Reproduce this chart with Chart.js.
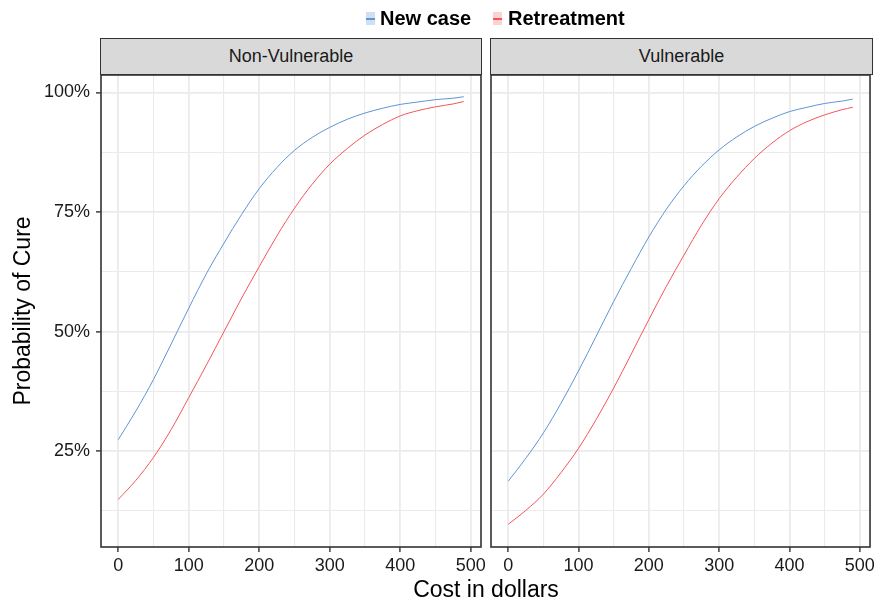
<!DOCTYPE html>
<html>
<head>
<meta charset="utf-8">
<script src="https://cdn.jsdelivr.net/npm/chart.js@4.4.1/dist/chart.umd.min.js"></script>
<style>
  html, body { margin:0; padding:0; background:#fff; }
  #wrap { position:relative; width:878px; height:603px; background:#fff; font-family:"Liberation Sans", Arial, sans-serif; overflow:hidden; }
  canvas { position:absolute; left:0; top:0; }
  .strip { position:absolute; top:38px; height:37px; box-sizing:border-box; background:#D9D9D9; border:1.6px solid #333; display:flex; align-items:center; justify-content:center; font-size:18px; color:#1a1a1a; }
  .lg { position:absolute; top:8px; font-size:20px; line-height:20px; font-weight:bold; color:#000; white-space:nowrap; }
  .key { position:absolute; top:12px; width:9px; height:13px; }
  .key i { position:absolute; left:0; right:0; top:5.5px; height:2px; }
  .xt { position:absolute; top:578px; left:0; width:972px; text-align:center; font-size:23px; line-height:23px; color:#000; }
</style>
</head>
<body>
<div id="wrap">
  <canvas id="c1" width="878" height="603"></canvas>
  <canvas id="c2" width="878" height="603"></canvas>
  <div class="strip" style="left:100px; width:382px;">Non-Vulnerable</div>
  <div class="strip" style="left:490px; width:383px;">Vulnerable</div>
  <div class="key" style="left:366px; background:#cfe0f3;"><i style="background:#5b95d8"></i></div>
  <div class="lg" style="left:380px;">New case</div>
  <div class="key" style="left:493px; background:#fbd3d3;"><i style="background:#f5545a"></i></div>
  <div class="lg" style="left:508px;">Retreatment</div>
  <div class="xt">Cost in dollars</div>
</div>
<script>
// ---- data ----
const costs = [0,25,50,75,100,125,150,175,200,225,250,275,300,325,350,375,400,425,450,475,490];
const nonVulnNew = [27.4,33.4,40.0,47.4,54.9,62.1,68.5,74.5,79.9,84.3,87.9,90.6,92.7,94.4,95.7,96.7,97.5,98.0,98.5,98.8,99.1];
const nonVulnRetreat = [14.9,18.9,23.7,29.5,36.2,43.0,50.0,57.0,63.6,70.0,75.8,80.8,85.0,88.3,91.1,93.3,95.1,96.2,97.0,97.6,98.1];
const vulnNew = [18.7,23.5,28.8,35.0,41.8,49.0,56.3,63.2,69.8,75.6,80.5,84.6,88.0,90.7,92.9,94.6,96.0,96.9,97.7,98.2,98.6];
const vulnRetreat = [9.7,12.6,16.0,20.5,25.6,31.6,38.2,45.3,52.5,59.5,66.0,72.3,77.8,82.3,86.2,89.4,92.0,93.9,95.3,96.4,96.9];
const seriesNames = ["New case", "Retreatment"];
const panels = ["Non-Vulnerable", "Vulnerable"];
const xTickLabels = [0,100,200,300,400,500];
const yTickLabels = [25,50,75,100];

const BLUE = '#5b95d8', RED = '#f5545a';
const GRID = '#EBEBEB';
const FONT = '"Liberation Sans", Arial, sans-serif';

const frame = {
  id: 'frame',
  afterDatasetsDraw(chart) {
    const {left, top, right, bottom} = chart.chartArea;
    const ctx = chart.ctx;
    ctx.save();
    ctx.strokeStyle = '#333';
    ctx.lineWidth = 1.6;
    ctx.strokeRect(left, top, right - left, bottom - top);
    ctx.restore();
  }
};

function pts(ys) { return costs.map((c, i) => ({x: c, y: ys[i]})); }

function makeChart(id, newVals, retVals, isLeft) {
  return new Chart(document.getElementById(id), {
    type: 'line',
    data: {
      datasets: [
        { label: seriesNames[0], data: pts(newVals), borderColor: BLUE, borderWidth: 1, pointRadius: 0, cubicInterpolationMode: 'monotone', fill: false },
        { label: seriesNames[1], data: pts(retVals), borderColor: RED, borderWidth: 1, pointRadius: 0, cubicInterpolationMode: 'monotone', fill: false }
      ]
    },
    options: {
      responsive: false,
      animation: false,
      events: [],
      layout: { padding: isLeft ? {left: 0, top: 75, right: 397, bottom: 0} : {left: 491, top: 75, right: 6, bottom: 0} },
      plugins: { legend: { display: false }, tooltip: { enabled: false } },
      scales: {
        x: {
          type: 'linear',
          min: -24.5, max: 514.5,
          border: { display: false },
          afterFit: s => { s.height = 56; },
          grid: {
            color: GRID,
            lineWidth: c => (c.tick && c.tick.value % 100 === 0) ? 1.8 : 1.1,
            tickLength: 5,
            tickColor: c => (c.tick && xTickLabels.includes(c.tick.value)) ? '#333' : 'rgba(0,0,0,0)',
            tickWidth: 1.4
          },
          ticks: {
            stepSize: 50,
            includeBounds: false,
            autoSkip: false,
            maxRotation: 0,
            padding: 3,
            color: '#1a1a1a',
            font: { family: FONT, size: 18 },
            callback: v => xTickLabels.includes(v) ? String(v) : ''
          }
        },
        y: {
          type: 'linear',
          min: 4.95, max: 103.65,
          border: { display: false },
          afterFit: s => { s.width = isLeft ? 101 : 0; },
          title: {
            display: isLeft,
            text: 'Probability of Cure',
            color: '#000',
            font: { family: FONT, size: 23 },
            padding: { top: 10, bottom: 0 }
          },
          grid: {
            color: GRID,
            lineWidth: c => (c.tick && c.tick.value % 25 === 0) ? 1.8 : 1.1,
            drawTicks: isLeft,
            tickLength: 5,
            tickColor: c => (c.tick && yTickLabels.includes(c.tick.value)) ? '#333' : 'rgba(0,0,0,0)',
            tickWidth: 1.4
          },
          ticks: {
            display: isLeft,
            stepSize: 12.5,
            includeBounds: false,
            autoSkip: false,
            padding: 6,
            color: '#1a1a1a',
            font: { family: FONT, size: 18 },
            callback: v => yTickLabels.includes(v) ? v + '%' : ''
          }
        }
      }
    },
    plugins: [frame]
  });
}

makeChart('c1', nonVulnNew, nonVulnRetreat, true);
makeChart('c2', vulnNew, vulnRetreat, false);
</script>
</body>
</html>
